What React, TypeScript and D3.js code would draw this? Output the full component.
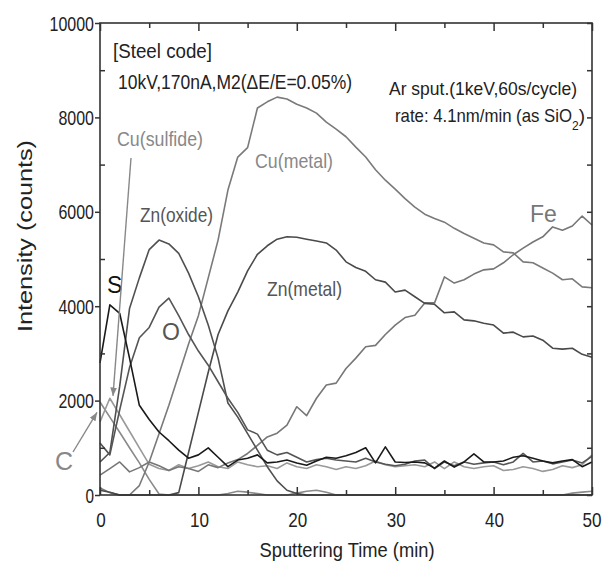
import React, { useEffect, useRef } from 'react';
import * as d3 from 'd3';

// sputtering time (min)
const time = [0, 1, 2, 3, 4, 5, 6, 7, 8, 9, 10, 11, 12, 13, 14, 15, 16, 17, 18, 19, 20, 21, 22, 23, 24, 25, 26, 27, 28, 29, 30, 31, 32, 33, 34, 35, 36, 37, 38, 39, 40, 41, 42, 43, 44, 45, 46, 47, 48, 49, 50];

const sulfur = [2800, 4030, 3850, 2900, 1900, 1600, 1335, 1150, 950, 780, 850, 1000, 800, 600, 740, 780, 850, 680, 700, 740, 680, 630, 720, 800, 780, 830, 900, 1000, 680, 1020, 700, 690, 700, 680, 570, 720, 590, 700, 870, 700, 700, 720, 800, 830, 780, 720, 680, 720, 750, 600, 700];
const oxygen = [1100, 850, 1800, 2700, 3330, 3550, 3980, 4170, 3800, 3400, 3050, 2750, 2400, 2050, 1750, 1380, 1290, 950, 850, 900, 800, 700, 750, 780, 740, 720, 700, 780, 700, 650, 620, 650, 720, 740, 560, 700, 620, 700, 650, 680, 700, 640, 700, 880, 700, 720, 660, 700, 740, 680, 820];
const carbon = [1970, 1650, 1330, 1000, 680, 330, 20, 0, 0, 0, 0, 0, 0, 30, 80, 60, 30, 0, 0, 0, 40, 80, 100, 60, 0, 0, 0, 0, 0, 0, 0, 0, 0, 0, 0, 0, 0, 0, 0, 0, 0, 0, 0, 0, 0, 0, 0, 0, 40, 60, 80];
const cuSulfide = [1550, 2050, 1700, 1350, 1000, 650, 560, 520, 640, 560, 620, 700, 600, 560, 700, 640, 600, 620, 560, 680, 600, 560, 640, 600, 540, 600, 560, 620, 720, 640, 600, 620, 640, 600, 700, 560, 700, 600, 560, 600, 620, 520, 540, 600, 560, 500, 540, 620, 580, 640, 850];
const cuMetal = [150, 50, 0, 0, 200, 700, 1300, 1900, 2550, 3200, 3800, 4600, 5400, 6460, 7160, 7360, 8200, 8330, 8430, 8390, 8280, 8200, 8090, 7900, 7750, 7590, 7370, 7160, 6890, 6670, 6480, 6280, 6100, 5950, 5860, 5780, 5650, 5540, 5440, 5340, 5300, 5150, 5130, 4940, 4920, 4810, 4700, 4560, 4580, 4410, 4390];
const znOxide = [700, 900, 2300, 3950, 4600, 5200, 5400, 5320, 5120, 4700, 4200, 3600, 2900, 1950, 1650, 1300, 950, 600, 300, 100, 30, 0, 0, 0, 0, 0, 0, 0, 0, 0, 0, 0, 0, 0, 0, 0, 0, 0, 0, 0, 0, 0, 0, 0, 0, 0, 0, 0, 0, 0, 0];
const znMetal = [100, 60, 0, 0, 0, 0, 0, 0, 50, 900, 1750, 2600, 3400, 3900, 4300, 4750, 5100, 5280, 5420, 5470, 5460, 5420, 5380, 5340, 5190, 4940, 4820, 4740, 4560, 4510, 4300, 4340, 4200, 4060, 4040, 3860, 3880, 3710, 3690, 3640, 3600, 3430, 3450, 3350, 3370, 3280, 3110, 3090, 3110, 2980, 2920];
const iron = [420, 560, 700, 490, 580, 700, 620, 520, 600, 560, 500, 640, 580, 680, 750, 880, 1050, 1230, 1310, 1480, 1870, 1680, 2050, 2330, 2370, 2680, 2900, 3140, 3170, 3400, 3600, 3760, 3810, 4070, 4070, 4620, 4490, 4560, 4680, 4770, 4790, 4920, 5090, 5230, 5360, 5470, 5680, 5610, 5700, 5910, 5720];

const xTicks = [0, 10, 20, 30, 40, 50];
const xMinorTicks = [5, 15, 25, 35, 45];
const yTicks = [0, 2000, 4000, 6000, 8000, 10000];
const yMinorTicks = [1000, 3000, 5000, 7000, 9000];

const svgWidth = 604;
const svgHeight = 562;
const font = "'Liberation Sans Narrow', 'Liberation Sans', Arial, sans-serif";

const App = () => {
  const svgRef = useRef(null);

  useEffect(() => {
    const svg = d3.select(svgRef.current);
    svg.selectAll('*').remove();

    const x = d3.scaleLinear().domain([0, 50]).range([100, 592]);
    const y = d3.scaleLinear().domain([0, 10000]).range([495, 23]);

    const series = [
      { values: carbon, color: '#8a8a8a' },
      { values: cuSulfide, color: '#999999' },
      { values: iron, color: '#777777' },
      { values: cuMetal, color: '#7a7a7a' },
      { values: znMetal, color: '#4a4a4a' },
      { values: znOxide, color: '#505050' },
      { values: oxygen, color: '#555555' },
      { values: sulfur, color: '#1a1a1a' },
    ];

    const line = d3.line().x((d, i) => x(time[i])).y(d => y(d));

    svg.append('g')
      .selectAll('path')
      .data(series)
      .enter()
      .append('path')
      .attr('d', d => line(d.values))
      .attr('fill', 'none')
      .attr('stroke', d => d.color)
      .attr('stroke-width', 1.6)
      .attr('stroke-linejoin', 'round');

    // frame
    svg.append('rect')
      .attr('x', x(0)).attr('y', y(10000))
      .attr('width', x(50) - x(0)).attr('height', y(0) - y(10000))
      .attr('fill', 'none').attr('stroke', '#333').attr('stroke-width', 1.6);

    const tickAxis = (axis, transform) => {
      const g = svg.append('g').attr('transform', transform).call(axis);
      g.select('.domain').remove();
      g.selectAll('line').attr('stroke', '#333').attr('stroke-width', 1.5);
      g.selectAll('text').remove();
    };

    tickAxis(d3.axisBottom(x).tickValues(xTicks).tickSize(-8), `translate(0,${y(0)})`);
    tickAxis(d3.axisBottom(x).tickValues(xMinorTicks).tickSize(-5), `translate(0,${y(0)})`);
    tickAxis(d3.axisTop(x).tickValues(xTicks).tickSize(-8), `translate(0,${y(10000)})`);
    tickAxis(d3.axisTop(x).tickValues(xMinorTicks).tickSize(-5), `translate(0,${y(10000)})`);
    tickAxis(d3.axisLeft(y).tickValues(yTicks).tickSize(5), `translate(${x(0)},0)`);
    tickAxis(d3.axisLeft(y).tickValues(yMinorTicks).tickSize(-5), `translate(${x(0)},0)`);
    tickAxis(d3.axisRight(y).tickValues(yTicks.concat(yMinorTicks)).tickSize(-5), `translate(${x(50)},0)`);

    const addText = (str, px, py, size, color, len, anchor = 'start') => {
      const t = svg.append('text')
        .attr('x', px).attr('y', py)
        .attr('font-family', font)
        .attr('font-size', size)
        .attr('fill', color)
        .attr('text-anchor', anchor)
        .text(str);
      if (len) t.attr('textLength', len).attr('lengthAdjust', 'spacingAndGlyphs');
      return t;
    };

    // tick labels
    yTicks.forEach(v => {
      const s = String(v);
      addText(s, 94, y(v) + 7.5, 21, '#222', s.length * 9 - 0.5, 'end');
    });
    xTicks.forEach(t => {
      const s = String(t);
      addText(s, t === 50 ? x(t) : x(t) + 1, 527, 21, '#222', s.length * 9.5, 'middle');
    });

    // axis titles
    svg.append('text')
      .attr('transform', 'translate(32,236) rotate(-90)')
      .attr('font-family', "'Liberation Sans', Arial, sans-serif")
      .attr('font-size', 21)
      .attr('fill', '#222')
      .attr('text-anchor', 'middle')
      .attr('textLength', 192)
      .attr('lengthAdjust', 'spacingAndGlyphs')
      .text('Intensity (counts)');
    addText('Sputtering Time (min)', 347, 557, 21, '#222', 175, 'middle');

    // annotations
    addText('[Steel code]', 113, 58, 21, '#222', 99);
    addText('10kV,170nA,M2(\u0394E/E=0.05%)', 118, 89, 21, '#222', 234);
    addText('Ar sput.(1keV,60s/cycle)', 389, 95, 19, '#222', 188);

    const rate = svg.append('text')
      .attr('x', 395).attr('y', 122)
      .attr('font-family', font)
      .attr('font-size', 19)
      .attr('fill', '#222');
    rate.append('tspan')
      .attr('textLength', 177)
      .attr('lengthAdjust', 'spacingAndGlyphs')
      .text('rate: 4.1nm/min (as SiO');
    rate.append('tspan').attr('font-size', 12).attr('dy', 8).text('2');
    rate.append('tspan').attr('dy', -8).text(')');

    // series labels
    addText('Cu(sulfide)', 117, 146, 21, '#888', 86);
    addText('Cu(metal)', 255, 168, 21, '#888', 78);
    addText('Zn(oxide)', 140, 222, 21, '#555', 73);
    addText('Zn(metal)', 267, 296, 21, '#555', 75);
    addText('S', 107, 293, 23, '#111');
    addText('O', 162, 340, 23, '#555');
    addText('C', 55, 470, 25, '#888');
    addText('Fe', 530, 222, 23, '#777');

    // arrows
    svg.append('defs').append('marker')
      .attr('id', 'arrow')
      .attr('viewBox', '0 0 10 10')
      .attr('refX', 10).attr('refY', 5)
      .attr('markerWidth', 6).attr('markerHeight', 6)
      .attr('orient', 'auto')
      .append('path')
      .attr('d', 'M0,1 L10,5 L0,9 z')
      .attr('fill', '#888');

    const arrow = (x1, y1, x2, y2) => svg.append('line')
      .attr('x1', x1).attr('y1', y1).attr('x2', x2).attr('y2', y2)
      .attr('stroke', '#888').attr('stroke-width', 1.4)
      .attr('marker-end', 'url(#arrow)');

    arrow(131, 158, 113, y(2100));
    arrow(73, 452, x(0) - 3, y(1750));
  }, []);

  return (
    <svg
      ref={svgRef}
      width={svgWidth}
      height={svgHeight}
      style={{ position: 'absolute', left: 0, top: 0, background: '#fff' }}
    />
  );
};

export default App;
